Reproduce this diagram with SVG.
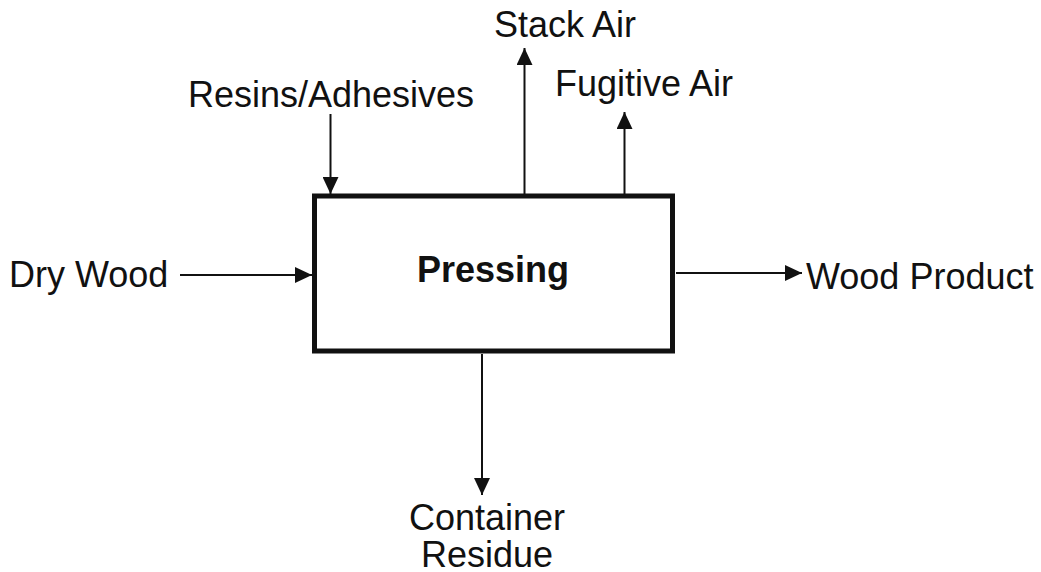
<svg xmlns="http://www.w3.org/2000/svg" width="1041" height="572" viewBox="0 0 1041 572">
<style>
.lbl{font-family:"Liberation Sans",Arial,sans-serif;font-size:36px;fill:#111}
.ttl{font-family:"Liberation Sans",Arial,sans-serif;font-size:36px;font-weight:bold;fill:#111}
.ln{stroke:#111;stroke-width:2;fill:none;marker-end:url(#ah)}
</style>
<defs>
<marker id="ah" markerUnits="userSpaceOnUse" markerWidth="18" markerHeight="16" refX="17" refY="8" orient="auto">
<path d="M0,0 L17,8 L0,16 Z" fill="#111"/>
</marker>
</defs>
<rect width="1041" height="572" fill="#fff"/>
<g id="connectors">
<line class="ln" x1="330.5" y1="114" x2="330.5" y2="194"/>
<line class="ln" x1="524.5" y1="194" x2="524.5" y2="48"/>
<line class="ln" x1="624.5" y1="194" x2="624.5" y2="112"/>
<line class="ln" x1="180" y1="275" x2="312" y2="275"/>
<line class="ln" x1="676" y1="273" x2="802" y2="273"/>
<line class="ln" x1="482" y1="354" x2="482" y2="495"/>
</g>
<g id="pressing">
<rect x="314.5" y="196" width="358" height="155" fill="#fff" stroke="#111" stroke-width="5"/>
<text class="ttl" x="493" y="282" text-anchor="middle">Pressing</text>
</g>
<g id="resins"><text class="lbl" x="331" y="107" text-anchor="middle">Resins/Adhesives</text></g>
<g id="stack-air"><text class="lbl" x="565" y="37" text-anchor="middle">Stack Air</text></g>
<g id="fugitive-air"><text class="lbl" x="644" y="96" text-anchor="middle">Fugitive Air</text></g>
<g id="dry-wood"><text class="lbl" x="9" y="287">Dry Wood</text></g>
<g id="wood-product"><text class="lbl" x="806" y="289">Wood Product</text></g>
<g id="container-residue"><text class="lbl" x="487" y="530" text-anchor="middle">Container</text><text class="lbl" x="487" y="567" text-anchor="middle">Residue</text></g>
</svg>
